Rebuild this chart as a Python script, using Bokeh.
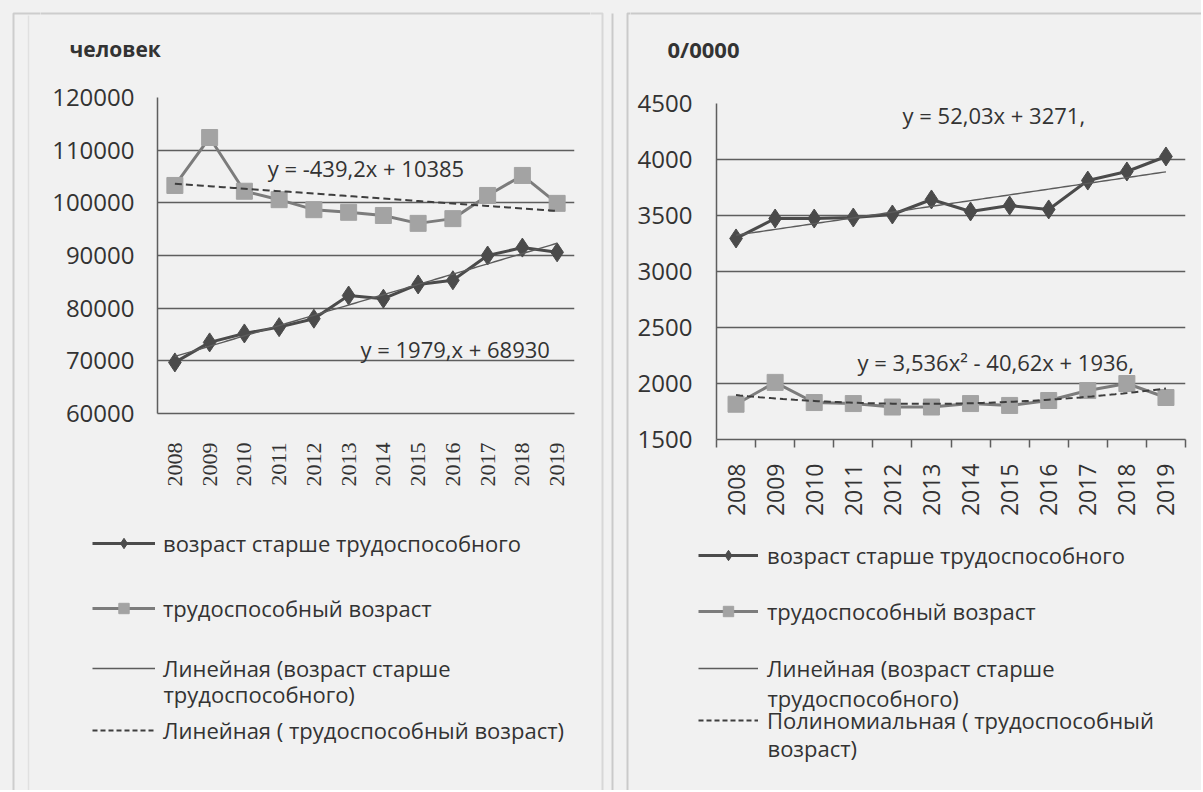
import math
import numpy as np
from bokeh.plotting import figure
from bokeh.models import (Range1d, FixedTicker, Label, Legend, LegendItem, BoxAnnotation)
from bokeh.layouts import row, column
from bokeh.embed import file_html
from bokeh.resources import INLINE
from bokeh.core.properties import value

# ---------------- data ----------------
years = ["2008", "2009", "2010", "2011", "2012", "2013",
         "2014", "2015", "2016", "2017", "2018", "2019"]
x_idx = list(range(1, len(years) + 1))

# left chart: number of people
left_older = [69700, 73500, 75200, 76400, 78000, 82400, 81800, 84500, 85300, 90000, 91500, 90600]
left_working = [103300, 112400, 102200, 100600, 98700, 98200, 97600, 96100, 97000, 101400, 105200, 99900]
left_yticks = [60000, 70000, 80000, 90000, 100000, 110000, 120000]
left_ylabels = ["60000", "70000", "80000", "90000", "100000", "110000", "120000"]
left_unit = "человек"
left_eq_older = "y = 1979,x + 68930"
left_eq_working = "y = -439,2x + 10385"
left_legend = ["возраст старше трудоспособного", "трудоспособный возраст",
               "Линейная (возраст старше", "трудоспособного)",
               "Линейная ( трудоспособный возраст)"]

# right chart: per 10 000
right_older = [3295, 3473, 3473, 3482, 3509, 3643, 3536, 3589, 3554, 3812, 3893, 4027]
right_working = [1815, 2010, 1830, 1821, 1790, 1790, 1821, 1804, 1848, 1937, 2000, 1875]
right_yticks = [1500, 2000, 2500, 3000, 3500, 4000, 4500]
right_ylabels = ["1500", "2000", "2500", "3000", "3500", "4000", "4500"]
right_unit = "0/0000"
right_eq_older = "y = 52,03x + 3271,"
right_eq_working = "y = 3,536x² - 40,62x + 1936,"
right_legend = ["возраст старше трудоспособного", "трудоспособный возраст",
                "Линейная (возраст старше", "трудоспособного)",
                "Полиномиальная ( трудоспособный", "возраст)"]

# ---------------- style ----------------
BG = "#f1f1f1"
TXT = "#333333"
FONT = "Open Sans"
C_OLD = "#4b4b4b"
C_WORK_LINE = "#7c7c7c"
C_WORK_MARK = "#a3a3a3"
C_TREND = "#5c5c5c"
C_DASH = "#3e3e3e"
GRID = "#5e5e5e"
FS = "22px"
TOP_Y = 13       # top border line (picture pixels)
BOX_STYLE = {"background-color": BG}


def strip(x0, x1, y0, y1):
    """A plain panel whose ranges are picture pixels (y downward)."""
    p = figure(width=x1 - x0, height=y1 - y0, output_backend="svg", toolbar_location=None,
               x_range=Range1d(x0, x1), y_range=Range1d(y1, y0),
               x_axis_type=None, y_axis_type=None, min_border=0, frame_align=False)
    p.background_fill_color = BG
    p.border_fill_color = BG
    p.outline_line_color = None
    p.grid.visible = False
    return p


def frame_line(p, left, right, top, bottom, color, width):
    p.add_layout(BoxAnnotation(left=left, right=right, top=top, bottom=bottom,
                               fill_alpha=0, line_color=color, line_width=width))


def make_chart(x0, x1, y0, y1, fl, fr, ft, fb, ymin, ymax, yticks, ylabels,
               xfont, xsize, ytick_standoff, xstand, xticks_out):
    p = figure(width=x1 - x0, height=y1 - y0, output_backend="svg", toolbar_location=None,
               x_range=Range1d(0.5, len(years) + 0.5), y_range=Range1d(ymin, ymax),
               min_border_left=fl - x0, min_border_right=x1 - fr,
               min_border_top=ft - y0, min_border_bottom=y1 - fb, frame_align=False)
    p.background_fill_color = BG
    p.border_fill_color = BG
    p.outline_line_color = None
    p.xgrid.visible = False
    p.ygrid.ticker = FixedTicker(ticks=yticks)
    p.ygrid.grid_line_color = GRID
    p.ygrid.grid_line_width = 1.5

    ya = p.yaxis[0]
    ya.ticker = FixedTicker(ticks=yticks)
    ya.major_label_overrides = {t: l for t, l in zip(yticks, ylabels)}
    ya.major_tick_out = 0
    ya.major_tick_in = 0
    ya.minor_tick_line_color = None
    ya.axis_line_color = GRID
    ya.axis_line_width = 1.5
    ya.major_label_text_font = FONT
    ya.major_label_text_font_size = "24px"
    ya.major_label_text_color = TXT
    ya.major_label_standoff = ytick_standoff

    xa = p.xaxis[0]
    xa.ticker = FixedTicker(ticks=x_idx, minor_ticks=[i + 0.5 for i in range(0, len(years) + 1)])
    xa.major_label_overrides = {i: y for i, y in zip(x_idx, years)}
    xa.major_label_orientation = math.pi / 2
    xa.major_tick_out = 0
    xa.major_tick_in = 0
    if xticks_out:
        xa.minor_tick_out = xticks_out
        xa.minor_tick_in = 0
        xa.minor_tick_line_color = GRID
        xa.minor_tick_line_width = 1.5
    else:
        xa.minor_tick_line_color = None
    xa.axis_line_color = GRID
    xa.axis_line_width = 1.5
    xa.major_label_text_font = xfont
    xa.major_label_text_font_size = xsize
    xa.major_label_text_color = TXT
    xa.major_label_standoff = xstand
    return p


def add_series(p, older, working, poly_deg):
    p.line(x_idx, older, line_color=C_OLD, line_width=3)
    p.scatter(x_idx, older, marker="diamond", size=19, fill_color=C_OLD, line_color=C_OLD)
    p.line(x_idx, working, line_color=C_WORK_LINE, line_width=3)
    p.scatter(x_idx, working, marker="square", size=16, fill_color=C_WORK_MARK, line_color=C_WORK_MARK)
    xs = np.linspace(1, len(years), 111)
    c_old = np.polyfit(x_idx, older, 1)
    p.line(xs, np.polyval(c_old, xs), line_color=C_TREND, line_width=1.4)
    c_w = np.polyfit(x_idx, working, poly_deg)
    p.line(xs, np.polyval(c_w, xs), line_color=C_DASH, line_width=2, line_dash="7 4")


def legend_proxies(p, older, working):
    """Legend glyphs: same styles as the chart's renderers (their data fall outside this panel)."""
    a = p.line(x_idx, older, line_color=C_OLD, line_width=3)
    b = p.scatter(x_idx, older, marker="diamond", size=13, fill_color=C_OLD, line_color=C_OLD)
    c = p.line(x_idx, working, line_color=C_WORK_LINE, line_width=3)
    d = p.scatter(x_idx, working, marker="square", size=15, fill_color=C_WORK_MARK, line_color=C_WORK_MARK)
    e = p.line(x_idx, older, line_color=C_TREND, line_width=1.4)
    f = p.line(x_idx, working, line_color=C_DASH, line_width=2, line_dash="5 3")
    return [[a, b], [c, d], [e], [f]]


def add_legend(p, px0, py1, label, renderers, gx, cy, gw, standoff):
    h = 26
    leg = Legend(items=[LegendItem(label=label, renderers=renderers)],
                 location=(gx - px0, py1 - (cy + h / 2)),
                 glyph_width=gw, glyph_height=h, label_height=h, label_standoff=standoff,
                 padding=0, margin=0, spacing=0,
                 border_line_alpha=0, background_fill_alpha=0,
                 label_text_font=FONT, label_text_font_size=FS, label_text_color=TXT)
    p.add_layout(leg)


def add_text(p, text, x, y, bold=False, size=FS):
    p.add_layout(Label(x=x, y=y, text=text, text_font=FONT, text_font_size=size, text_color=TXT,
                       text_font_style="bold" if bold else "normal",
                       text_baseline="middle", text_align="left"))


# column bounds in picture pixels
XA0, XA1 = 0, 40            # left border strip
XB0, XB1 = 40, 590          # left chart column
XC0, XC1 = 590, 630         # middle border strip
XD0, XD1 = 630, 1201        # right chart column
Y0, Y1, Y2, Y3 = 0, 75, 520, 790

# ---------------- borders ----------------
sa = strip(XA0, XA1, Y0, Y3)
frame_line(sa, 13, 3000, TOP_Y, 3000, "#7a7a7a", 2)
frame_line(sa, 28, 28, 15, 3000, "#b8b8b8", 1.5)

sc = strip(XC0, XC1, Y0, Y3)
frame_line(sc, -3000, 602, TOP_Y, 3000, "#9a9a9a", 2)
frame_line(sc, 612, 612, TOP_Y, 3000, "#6f6f6f", 2)
frame_line(sc, 627, 3000, TOP_Y, 3000, "#6f6f6f", 2)

# ---------------- left chart ----------------
tb = strip(XB0, XB1, Y0, Y1)
frame_line(tb, -3000, 3000, TOP_Y, 3000, "#7a7a7a", 2)
add_text(tb, left_unit, 69, 48, bold=True, size="21px")

pl = make_chart(XB0, XB1, Y1, Y2, 157, 574, 97, 413, 60000, 120000,
                left_yticks, left_ylabels, "Liberation Serif", "22px", 23, 25, 0)
add_series(pl, left_older, left_working, 1)
pl.add_layout(Label(x=3.67, y=106700, text=left_eq_working, text_font=FONT, text_font_size=FS,
                    text_color=TXT, text_baseline="middle"))
pl.add_layout(Label(x=6.34, y=72300, text=left_eq_older, text_font=FONT, text_font_size=FS,
                    text_color=TXT, text_baseline="middle"))

lb = strip(XB0, XB1, Y2, Y3)
rl = legend_proxies(lb, left_older, left_working)
add_legend(lb, XB0, Y3, left_legend[0], rl[0], 92, 545, 63, 8)
add_legend(lb, XB0, Y3, left_legend[1], rl[1], 92, 610, 63, 8)
add_legend(lb, XB0, Y3, left_legend[2], rl[2], 92, 670, 63, 8)
add_text(lb, left_legend[3], 163, 693)
add_legend(lb, XB0, Y3, left_legend[4], rl[3], 92, 732, 63, 8)

# ---------------- right chart ----------------
td = strip(XD0, XD1, Y0, Y1)
frame_line(td, -3000, 3000, TOP_Y, 3000, "#6f6f6f", 2)
add_text(td, right_unit, 667, 48, bold=True, size="22px")

pr = make_chart(XD0, XD1, Y1, Y2, 716, 1185, 103, 439, 1500, 4500,
                right_yticks, right_ylabels, FONT, "23px", 24, 16, 8)
add_series(pr, right_older, right_working, 2)
pr.add_layout(Label(x=5.26, y=4393, text=right_eq_older, text_font=FONT, text_font_size=FS,
                    text_color=TXT, text_baseline="middle"))
pr.add_layout(Label(x=4.11, y=2188, text=right_eq_working, text_font=FONT, text_font_size=FS,
                    text_color=TXT, text_baseline="middle"))

ld = strip(XD0, XD1, Y2, Y3)
rr = legend_proxies(ld, right_older, right_working)
add_legend(ld, XD0, Y3, right_legend[0], rr[0], 698, 557, 60, 9)
add_legend(ld, XD0, Y3, right_legend[1], rr[1], 698, 613, 60, 9)
add_legend(ld, XD0, Y3, right_legend[2], rr[2], 698, 670, 60, 9)
add_text(ld, right_legend[3], 767, 697)
add_legend(ld, XD0, Y3, right_legend[4], rr[3], 698, 722, 60, 9)
add_text(ld, right_legend[5], 767, 747)

layout = row(sa, column(tb, pl, lb, styles=BOX_STYLE), sc, column(td, pr, ld, styles=BOX_STYLE),
             styles=BOX_STYLE)
open("out.html", "w").write(file_html(layout, INLINE))
